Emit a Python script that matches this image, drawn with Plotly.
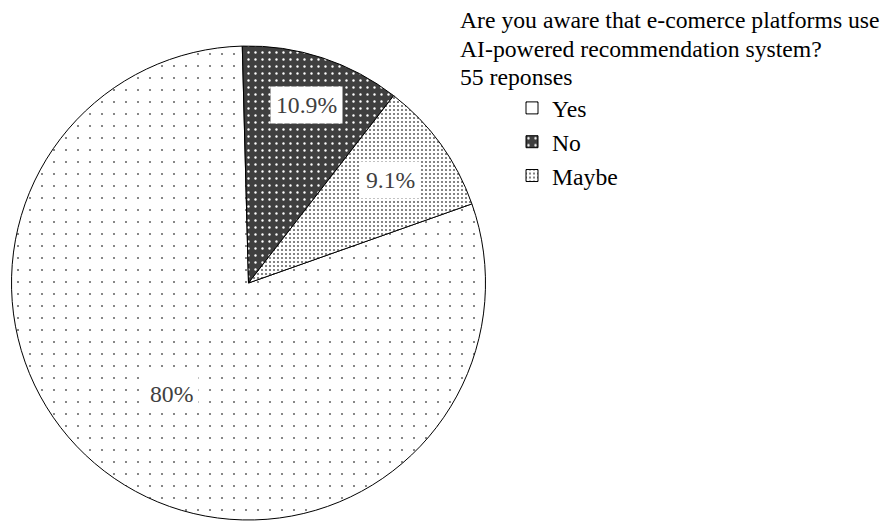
import math
import plotly.graph_objects as go

labels = ["Yes", "No", "Maybe"]
values = [44, 6, 5]
pct_text = ["80%", "10.9%", "9.1%"]
title_lines = [
    "Are you aware that e-comerce platforms use",
    "AI-powered recommendation system?",
    "55 reponses",
]

W, H = 886, 522
FONT = "Liberation Serif, Times New Roman, serif"
FS = 23.7

# pie geometry (pixels)
cx, cy, R = 248.5, 283.0, 237.0
dom_x = [(cx - R) / W, (cx + R) / W]
dom_y = [(H - cy - R) / H, (H - cy + R) / H]

total = sum(values)
# 'No' starts just left of 12 o'clock, so 'Yes' starts after No + Maybe (clockwise)
start_angle = -1.5 + 360.0 * (total - values[0]) / total

fig = go.Figure(
    go.Pie(
        labels=labels,
        values=values,
        sort=False,
        direction="clockwise",
        rotation=start_angle,
        textinfo="none",
        hoverinfo="label+percent",
        domain=dict(x=dom_x, y=dom_y),
        marker=dict(
            colors=["#ffffff", "#3f3f3f", "#ffffff"],
            line=dict(color="#000000", width=1),
            pattern=dict(
                shape=[".", ".", "."],
                fgcolor=["#6a6a6a", "#ffffff", "#666666"],
                bgcolor=["#ffffff", "#3f3f3f", "#ffffff"],
                size=[12, 7, 4],
                solidity=[0.025, 0.09, 0.22],
                fillmode="replace",
            ),
        ),
    )
)

# percentage labels in white boxes, placed from slice angles
label_r = [0.57, 0.79, 0.74]
ang = start_angle
annotations = []
for lab, v, t, fr in zip(labels, values, pct_text, label_r):
    span = 360.0 * v / total
    mid = math.radians(ang + span / 2)
    ang += span
    lx = cx + fr * R * math.sin(mid)
    ly = cy - fr * R * math.cos(mid)
    annotations.append(dict(
        x=lx / W, y=(H - ly) / H, xref="paper", yref="paper",
        text=t, showarrow=False, xanchor="center", yanchor="middle",
        font=dict(family=FONT, size=FS, color="#404040"),
        bgcolor="#ffffff", borderpad=5,
    ))

title_y = [20, 48.5, 77]
for line, ty in zip(title_lines, title_y):
    annotations.append(dict(
        x=458 / W, y=(H - ty) / H, xref="paper", yref="paper",
        text=line, showarrow=False, xanchor="left", yanchor="middle",
        font=dict(family=FONT, size=FS, color="#000000"),
    ))

fig.update_layout(
    width=W, height=H,
    margin=dict(l=0, r=0, t=0, b=0),
    paper_bgcolor="#ffffff",
    plot_bgcolor="#ffffff",
    font=dict(family=FONT, size=FS, color="#000000"),
    showlegend=True,
    legend=dict(
        x=512 / W, xanchor="left",
        y=(H - 86) / H, yanchor="top",
        font=dict(family=FONT, size=FS, color="#000000"),
        itemwidth=30,
        bgcolor="rgba(0,0,0,0)",
        borderwidth=0,
    ),
    annotations=annotations,
)

fig.write_html("out.html")
